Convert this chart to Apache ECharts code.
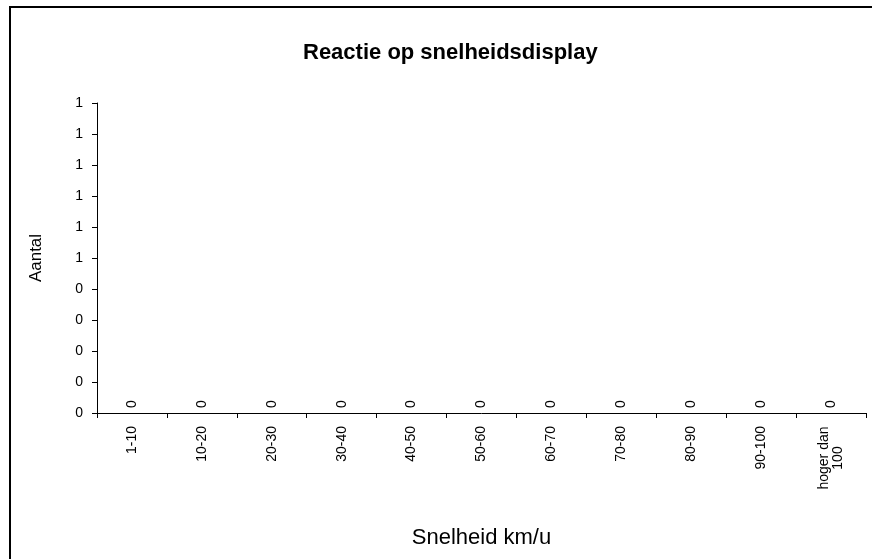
<!DOCTYPE html>
<html>
<head>
<meta charset="utf-8">
<script src="https://cdn.jsdelivr.net/npm/echarts@6/dist/echarts.min.js"></script>
<style>
  html, body { margin: 0; padding: 0; background: #fff; }
  #chart { width: 872px; height: 559px; }
</style>
</head>
<body>
<div id="chart"></div>
<script>
const categories = ["1-10", "10-20", "20-30", "30-40", "40-50", "50-60", "60-70", "70-80", "80-90", "90-100", "hoger dan\n100"];
const counts = [0, 0, 0, 0, 0, 0, 0, 0, 0, 0, 0];
const yMin = 0;
const yMax = 1;
const yStep = 0.1;

const font = "Liberation Sans, Arial, sans-serif";

const chart = echarts.init(document.getElementById("chart"), null, { renderer: "canvas" });

chart.setOption({
  animation: false,
  backgroundColor: "#fff",
  textStyle: { fontFamily: font },
  title: {
    text: "Reactie op snelheidsdisplay",
    left: 298,
    top: 37,
    textStyle: { fontFamily: font, fontSize: 22, fontWeight: "bold", color: "#000" },
  },
  graphic: [
    {
      type: "rect",
      shape: { x: 10, y: 7, width: 900, height: 600 },
      style: { fill: "none", stroke: "#000", lineWidth: 2 },
      silent: true,
    },
  ],
  grid: { left: 97, right: 6, top: 103, bottom: 146 },
  xAxis: {
    type: "category",
    data: categories,
    name: "Snelheid km/u",
    nameLocation: "middle",
    nameGap: 114,
    nameTextStyle: { fontFamily: font, fontSize: 22, color: "#000" },
    axisLine: { lineStyle: { color: "#000", width: 1 } },
    axisTick: { show: true, length: 5, lineStyle: { color: "#000" } },
    axisLabel: {
      rotate: 90,
      interval: 0,
      margin: 13,
      color: "#000",
      fontSize: 14,
      fontFamily: font,
      formatter: (v) => v.includes("\n")
        ? v.split("\n").map((line) => `{c|${line}}`).join("\n")
        : v,
      rich: { c: { width: 64, align: "center", fontSize: 14, lineHeight: 14, fontFamily: font, color: "#000" } },
    },
  },
  yAxis: {
    type: "value",
    min: yMin,
    max: yMax,
    interval: yStep,
    name: "Aantal",
    nameLocation: "middle",
    nameGap: 52,
    nameTextStyle: { fontFamily: font, fontSize: 17, color: "#000" },
    axisLine: { show: true, lineStyle: { color: "#000", width: 1 } },
    axisTick: { show: true, length: 5, lineStyle: { color: "#000" } },
    splitLine: { show: false },
    axisLabel: {
      color: "#000",
      fontSize: 14,
      fontFamily: font,
      margin: 14,
      formatter: (v) => String(Math.round(v)),
    },
  },
  series: [
    {
      type: "bar",
      data: counts,
      barWidth: "50%",
      itemStyle: { color: "#9999ff" },
      label: {
        show: true,
        position: "top",
        rotate: 90,
        align: "left",
        verticalAlign: "middle",
        distance: 5,
        color: "#000",
        fontSize: 14,
        fontFamily: font,
      },
    },
  ],
});
</script>
</body>
</html>
